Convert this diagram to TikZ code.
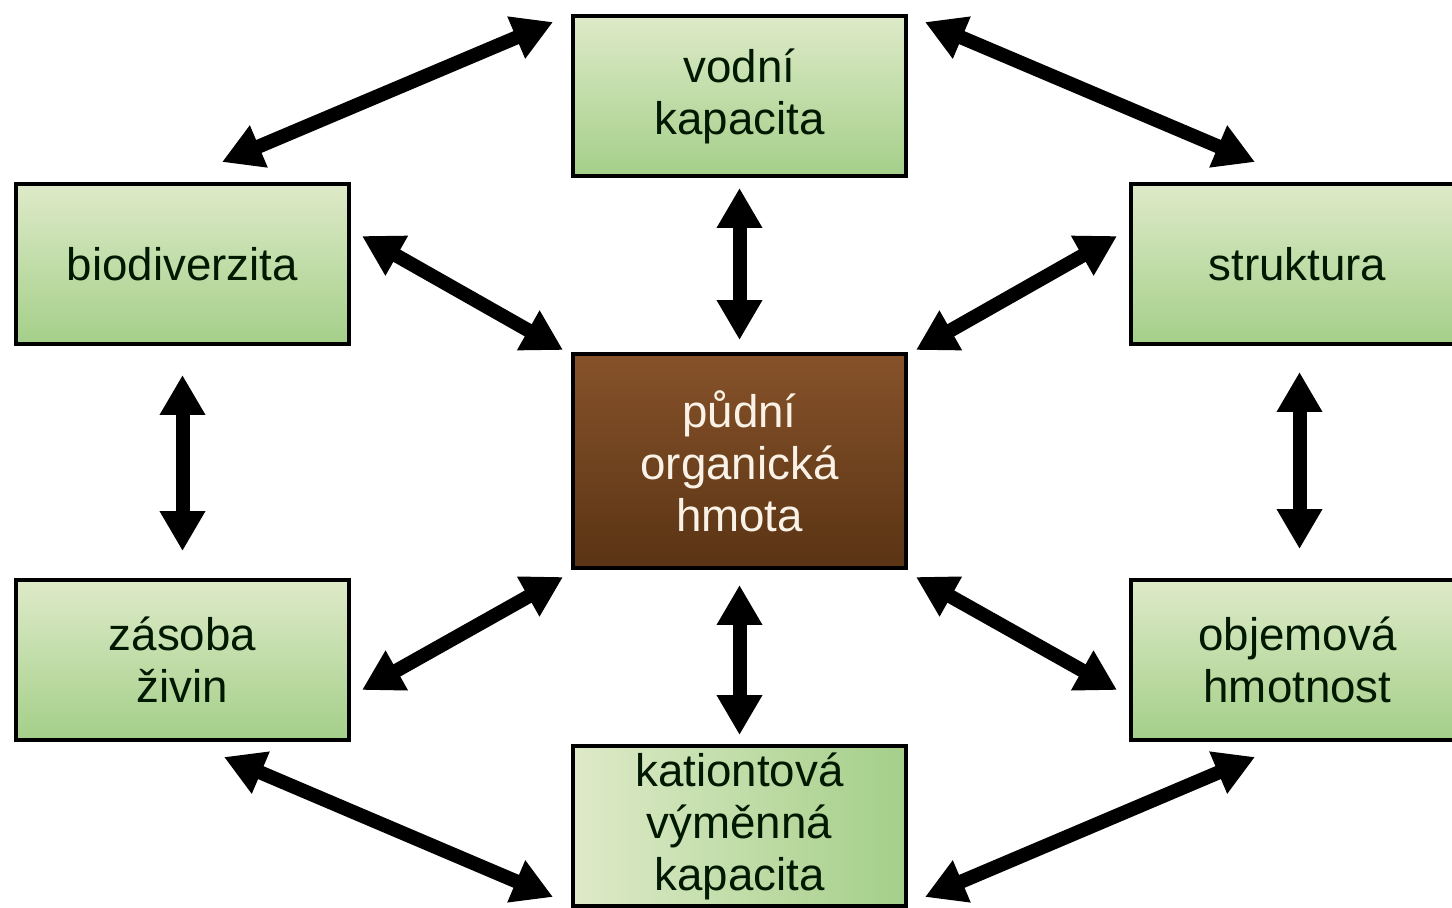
\documentclass[tikz,border=0pt]{standalone}
\usepackage{fontspec}
\setmainfont{Liberation Sans}
\usepackage{tikz}
\usetikzlibrary{shapes}
\usetikzlibrary{arrows.meta}
\usetikzlibrary{calc}
\pgfdeclarelayer{edgelayer}
\pgfdeclarelayer{nodelayer}
\pgfsetlayers{edgelayer,nodelayer,main}
\definecolor{lightgreen}{RGB}{222,234,200}
\definecolor{darkgreen}{RGB}{164,207,137}
\definecolor{lightbrown}{RGB}{134,82,42}
\definecolor{darkbrown}{RGB}{90,52,20}
\definecolor{paletext}{RGB}{250,242,230}
\tikzstyle{box}=[rectangle, draw=black, line width=0.08cm, minimum width=6.66cm, minimum height=3.2cm, align=center, font=\fontsize{26}{29.6}\selectfont, text=black!90!green, top color=lightgreen, bottom color=darkgreen]
\tikzstyle{core}=[box, minimum height=4.28cm, text=paletext, top color=lightbrown, bottom color=darkbrown]
\tikzstyle{link}=[line width=0.28cm, {Triangle[width=0.86cm,length=0.8cm]}-{Triangle[width=0.86cm,length=0.8cm]}]

\begin{document}
\begin{tikzpicture}[x=0.02cm, y=-0.02cm]
    \useasboundingbox (0,0) rectangle (1452,907);
    \clip (0,0) rectangle (1452,907);
    \begin{pgfonlayer}{nodelayer}
	\node [core] (0) at (739.5, 461) {půdní\\organická\\hmota};
	\node [box] (1) at (739.5, 96) {vodní\\kapacita};
	\node [box] (2) at (182.5, 264) {biodiverzita};
	\node [box] (3) at (1297.5, 264) {struktura};
	\node [box] (4) at (182.5, 660) {zásoba\\živin};
	\node [box] (5) at (1297.5, 660) {objemová\\hmotnost};
	\node [box, left color=lightgreen, right color=darkgreen] (6) at (739.5, 826) {kationtová\\výměnná\\kapacita};
    \end{pgfonlayer}
    \begin{pgfonlayer}{edgelayer}
	\draw [link] ($(1.north west)+(-18,8)$) to ($(2.north)+(39.5,-20)$);
	\draw [link] ($(1.north east)+(17,8)$) to ($(3.north)+(-42.5,-20)$);
	\draw [link] ($(1.south)+(0,10)$) to ($(0.north)+(0,-12)$);
	\draw [link] ($(2.east)+(11,-28)$) to ($(0.north west)+(-8,-2)$);
	\draw [link] ($(3.west)+(-12,-28)$) to ($(0.north east)+(8,-2)$);
	\draw [link] ($(2.south)+(0,29)$) to ($(4.north)+(0,-27)$);
	\draw [link] ($(3.south)+(2,26)$) to ($(5.north)+(2,-29)$);
	\draw [link] ($(0.south west)+(-8,7)$) to ($(4.east)+(11,30)$);
	\draw [link] ($(0.south east)+(8,7)$) to ($(5.west)+(-12,30)$);
	\draw [link] ($(0.south)+(0,15)$) to ($(6.north)+(0,-9)$);
	\draw [link] ($(4.south)+(41.5,15)$) to ($(6.south west)+(-18,-11)$);
	\draw [link] ($(5.south)+(-42.5,15)$) to ($(6.south east)+(17,-11)$);
    \end{pgfonlayer}
\end{tikzpicture}
\end{document}
